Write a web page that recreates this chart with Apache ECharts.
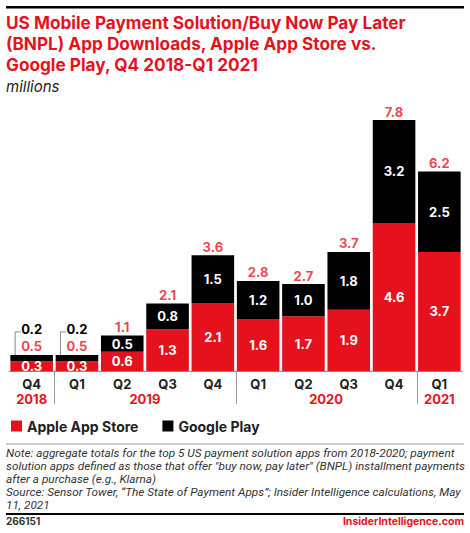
<!DOCTYPE html>
<html><head><meta charset="utf-8">
<script src="https://cdn.jsdelivr.net/npm/echarts@6/dist/echarts.min.js"></script>
<style>html,body{margin:0;padding:0;background:#fff}#c{width:470px;height:533px}</style>
</head><body><div id="c"></div>
<script>
const quarters = ['Q4','Q1','Q2','Q3','Q4','Q1','Q2','Q3','Q4','Q1'];
const yearLabels = ['2018','2019','2020','2021'];
const yearStart = [0,1,5,9];
const yearEnd = [0,4,8,9];
const apple = [0.3,0.3,0.6,1.3,2.1,1.6,1.7,1.9,4.6,3.7];
const google = [0.2,0.2,0.5,0.8,1.5,1.2,1.0,1.8,3.2,2.5];
const totals = [0.5,0.5,1.1,2.1,3.6,2.8,2.7,3.7,7.8,6.2];
const smallBars = [0,1];

const RED = '#e5121e';
const FONT = 'Inter, "Noto Sans", sans-serif';
const NFONT = 'Roboto, "Liberation Sans", sans-serif';
const NOTE = 'Note: aggregate totals for the top 5 US payment solution apps from 2018-2020; payment\nsolution apps defined as those that offer "buy now, pay later" (BNPL) installment payments\nafter a purchase (e.g., Klarna)\nSource: Sensor Tower, \u201cThe State of Payment Apps\u201d; Insider Intelligence calculations, May\n11, 2021';

const chart = echarts.init(document.getElementById('c'), null, {renderer:'svg'});
const valLabel = {show:true, position:'inside', color:'#fff', fontFamily:FONT, fontWeight:'bold', fontSize:13, formatter:p=>p.value.toFixed(1)};
chart.setOption({
  animation:false,
  textStyle:{fontFamily:FONT},
  grid:{left:9, right:8, top:120, bottom:162},
  xAxis:{type:'category', data:quarters,
    axisLine:{lineStyle:{color:'#888', width:1}},
    axisTick:{show:false},
    axisLabel:{color:'#222', fontFamily:FONT, fontWeight:'bold', fontSize:13, margin:6}},
  yAxis:{type:'value', min:0, max:7.8, show:false, splitLine:{show:false}},
  legend:{data:['Apple App Store','Google Play'], left:6, top:414, icon:'rect', itemWidth:11, itemHeight:11, itemGap:24,
    textStyle:{color:'#222', fontFamily:FONT, fontWeight:'bold', fontSize:14}},
  series:[
    {name:'Apple App Store', type:'bar', stack:'s', data:apple, barCategoryGap:'6%', itemStyle:{color:RED}, label:valLabel},
    {name:'Google Play', type:'bar', stack:'s', itemStyle:{color:'#000'}, label:valLabel,
      data:google.map((v,i)=>smallBars.includes(i)?{value:v,label:{position:'top',color:'#000',distance:19}}:v)},
    {name:'Total', type:'scatter', data:totals, symbolSize:0, silent:true,
      label:{show:true, position:'top', distance:2, color:RED, fontFamily:FONT, fontWeight:'bold', fontSize:13, formatter:p=>p.value.toFixed(1)}}
  ]
});

const g = [
  {type:'rect', shape:{x:6,y:6,width:458,height:2.5}, style:{fill:'#000'}},
  {type:'text', left:6, top:12, style:{text:'US Mobile Payment Solution/Buy Now Pay Later\n(BNPL) App Downloads, Apple App Store vs.\nGoogle Play, Q4 2018-Q1 2021', fill:RED, font:'bold 17.2px '+FONT, lineHeight:21}},
  {type:'text', left:6, top:79, style:{text:'millions', fill:'#222', font:'italic 15px '+FONT}},
  {type:'rect', shape:{x:6,y:443.5,width:458,height:1}, style:{fill:'#999'}},
  {type:'text', left:6, top:447, style:{text:NOTE, fill:'#333', font:'italic 11.8px '+NFONT, lineHeight:12.8}},
  {type:'rect', shape:{x:6,y:513,width:458,height:2}, style:{fill:'#000'}},
  {type:'text', left:6, top:516, style:{text:'266151', fill:'#333', font:'bold 10px '+FONT}},
  {type:'text', right:6, top:516, style:{text:'InsiderIntelligence.com', fill:RED, font:'bold 10.5px '+FONT}}
];
const axisY = chart.convertToPixel({yAxisIndex:0}, 0);
yearLabels.forEach((y,k)=>{
  const x0 = chart.convertToPixel({xAxisIndex:0}, yearStart[k]);
  const x1 = chart.convertToPixel({xAxisIndex:0}, yearEnd[k]);
  g.push({type:'text', x:(x0+x1)/2, y:axisY+28, style:{text:y, fill:RED, font:'bold 13px '+FONT, textAlign:'center', textVerticalAlign:'middle'}});
  if (k>0) {
    const xa = chart.convertToPixel({xAxisIndex:0}, yearStart[k]-1);
    const xs = Math.round((xa+x0)/2)+0.5;
    g.push({type:'line', shape:{x1:xs, y1:axisY, x2:xs, y2:axisY+33}, style:{stroke:'#999', lineWidth:1}});
  }
});
smallBars.forEach(i=>{
  const cx = chart.convertToPixel({xAxisIndex:0}, i);
  const top = chart.convertToPixel({yAxisIndex:0}, totals[i]);
  g.push({type:'polyline', shape:{points:[[cx-16.5, top+3],[cx-16.5, top-23],[cx-11, top-23]]}, style:{stroke:'#888', lineWidth:1, fill:null}});
});
chart.setOption({graphic:g});
</script></body></html>
